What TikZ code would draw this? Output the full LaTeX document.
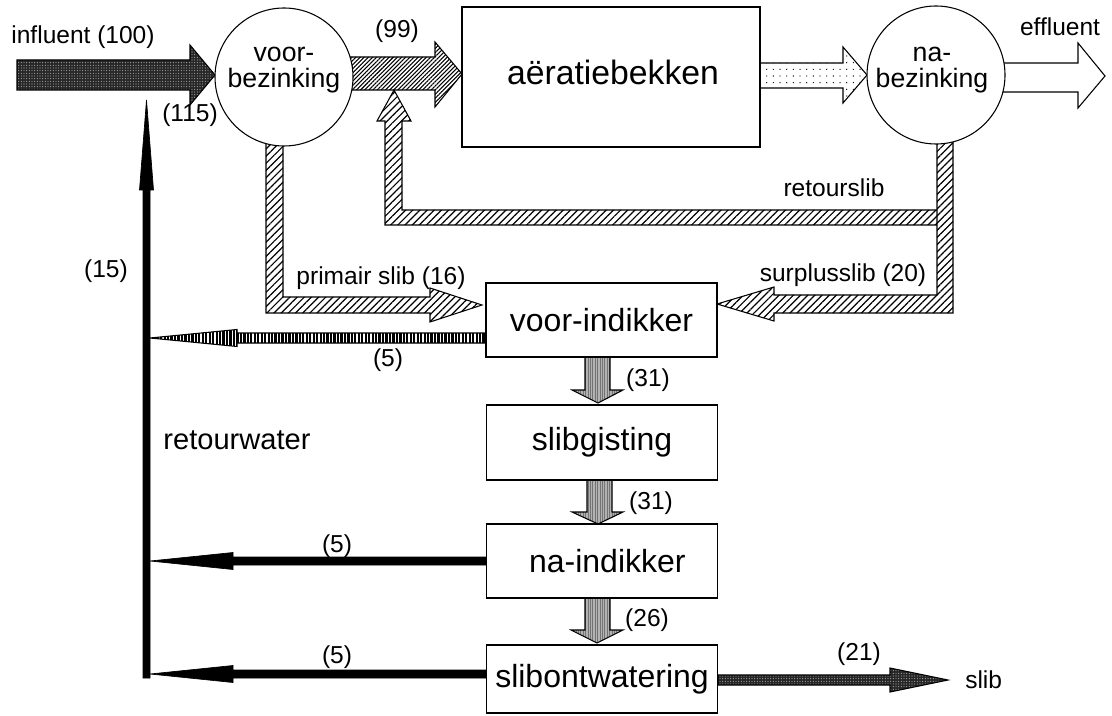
\documentclass[tikz,border=0pt]{standalone}
\usepackage{fontspec}
\setmainfont{Liberation Sans}
\usetikzlibrary{patterns,patterns.meta}
\begin{document}
\begin{tikzpicture}[x=0.75pt,y=-0.75pt,
  every node/.style={inner sep=0pt},
  lbl/.style={font=\fontsize{18.4}{20}\selectfont},
  ctxt/.style={font=\fontsize{20}{21}\selectfont, anchor=base},
  boxtxt/.style={font=\fontsize{24}{26}\selectfont},
  unitbox/.style={draw, line width=0.8pt, fill=white, boxtxt, minimum width=173.25pt},
  tank/.style={draw, circle, fill=white, line width=0.8pt, minimum size=103.5pt},
  arr/.style={draw, line width=0.8pt, line join=miter},
  darkfill/.style={arr, preaction={fill=black!85}, pattern={Dots[distance=2pt,radius=0.4pt]}, pattern color=gray!55},
  densehatch/.style={arr, preaction={fill=white}, pattern={Lines[angle=45,distance=2.2pt,line width=0.8pt]}},
  hatch/.style={arr, preaction={fill=white}, pattern={Lines[angle=45,distance=3.8pt,line width=0.9pt]}},
  dotfill/.style={arr, preaction={fill=white}, pattern={Dots[distance=5pt,radius=0.5pt]}},
  whitefill/.style={arr, fill=white},
  ladder/.style={arr, preaction={fill=black}, pattern={Lines[angle=90,distance=2.6pt,line width=0.9pt]}, pattern color=white},
  grayfill/.style={arr, preaction={fill=gray!60}, pattern={Lines[angle=90,distance=1.8pt,line width=0.5pt]}, pattern color=black!55},
  blackfill/.style={fill=black, draw=black, line width=0.5pt}
]
\useasboundingbox (0,0) rectangle (1112,716);

% ---------- block arrows (drawn first, under the units) ----------
% influent
\path[darkfill] (17,60) -- (190,60) -- (190,45) -- (215,75) -- (190,105) -- (190,90) -- (17,90) -- cycle;
% (99)
\path[densehatch] (340,57) -- (435,57) -- (435,42) -- (462,74) -- (435,107) -- (435,90) -- (340,90) -- cycle;
% aeration -> nabezinking
\path[dotfill] (760,63) -- (843,63) -- (843,47) -- (867,75) -- (843,103) -- (843,88) -- (760,88) -- cycle;
% effluent
\path[whitefill] (990,63) -- (1078,63) -- (1078,43) -- (1105,76) -- (1078,108) -- (1078,92) -- (990,92) -- cycle;
% retourslib
\path[hatch] (940,210) -- (402,210) -- (402,121) -- (411,121) -- (394,90) -- (377,121) -- (385,121) -- (385,225) -- (940,225) -- cycle;
% nabezinking -> surplusslib
\path[hatch] (937,130) -- (953,130) -- (953,313) -- (774,313) -- (774,321) -- (717,304) -- (774,287) -- (774,295) -- (937,295) -- cycle;
% primair slib
\path[hatch] (266,130) -- (283,130) -- (283,297) -- (430,297) -- (430,288) -- (482,305) -- (430,322) -- (430,313) -- (266,313) -- cycle;
% (5) from voor-indikker
\path[ladder] (486,333) -- (237,333) -- (237,329.5) -- (150,338) -- (237,346.5) -- (237,343) -- (486,343) -- cycle;
% (5) from na-indikker
\path[blackfill] (486,557) -- (233,557) -- (233,552.5) -- (150,561) -- (233,569.5) -- (233,565) -- (486,565) -- cycle;
% (5) from slibontwatering
\path[blackfill] (486,670) -- (233,670) -- (233,665.5) -- (150,674) -- (233,682.5) -- (233,678) -- (486,678) -- cycle;
% retourwater (15)
\path[blackfill] (143,678) -- (143,190) -- (139.5,190) -- (146.5,100) -- (153.5,190) -- (150,190) -- (150,678) -- cycle;
% gray sludge arrows
\path[grayfill] (585,357) -- (610,357) -- (610,390) -- (623,390) -- (598,403) -- (572,390) -- (585,390) -- cycle;
\path[grayfill] (587,480) -- (612,480) -- (612,512) -- (623,512) -- (598,524) -- (572,512) -- (587,512) -- cycle;
\path[grayfill] (585,598) -- (610,598) -- (610,630) -- (623,630) -- (597,643) -- (571,630) -- (585,630) -- cycle;
% slib
\path[darkfill] (718,675) -- (890,675) -- (890,668) -- (948,680) -- (890,692) -- (890,685) -- (718,685) -- cycle;

% ---------- units ----------
\node[tank] (vb) at (284,77) {};
\node[ctxt] (vbt1) at (284,62) {voor-};
\node[ctxt] (vbt2) at (284,88) {bezinking};
\node[tank] (nb) at (936,75) {};
\node[ctxt] (nbt1) at (932,62) {na-};
\node[ctxt] (nbt2) at (932,88) {bezinking};
\node[draw, line width=0.8pt, fill=white, minimum width=223.5pt, minimum height=105pt] (ab) at (611,77) {};
\node[font=\fontsize{25.3}{27}\selectfont] (abt) at (613,72.5) {aëratiebekken};
\node[unitbox, minimum height=55.5pt] (vi) at (601.5,320) {voor-indikker};
\node[unitbox, minimum height=56.25pt] (sg) at (602,442.5) {slibgisting};
\node[unitbox, minimum height=55.5pt] (ni) at (602,561) {\hspace{8pt}na-indikker};
\node[unitbox, minimum height=51pt] (so) at (602,679) {slibontwatering};

% ---------- labels ----------
\node[lbl] (l1) at (83,37) {influent (100)};
\node[lbl] (l2) at (190,115) {(115)};
\node[lbl] (l3) at (397,31) {(99)};
\node[lbl] (l4) at (1060,27) {effluent};
\node[lbl] (l5) at (834,188) {retourslib};
\node[lbl] (l6) at (381,278) {primair slib (16)};
\node[lbl] (l7) at (843,275) {surplusslib (20)};
\node[lbl] (l8) at (106,271) {(15)};
\node[lbl] (l9) at (388,360) {(5)};
\node[font=\fontsize{21.8}{24}\selectfont] (l10) at (237,440) {retourwater};
\node[lbl] (l11) at (648,380) {(31)};
\node[lbl] (l12) at (651,503) {(31)};
\node[lbl] (l13) at (647,620) {(26)};
\node[lbl] (l14) at (337,546) {(5)};
\node[lbl] (l15) at (337,657) {(5)};
\node[lbl] (l16) at (859,654) {(21)};
\node[lbl, anchor=west] (l17) at (965,680) {slib};
\end{tikzpicture}
\end{document}
